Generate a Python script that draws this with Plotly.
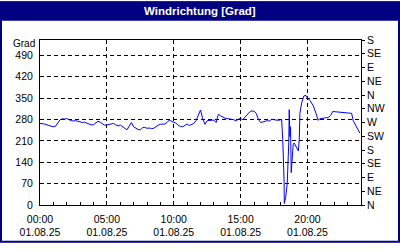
import pandas as pd
import plotly.graph_objects as go

# ---- data ----
times = [
    "00:00", "00:20", "00:40", "00:50", "01:00", "01:10", "01:20", "01:30", "01:40", "01:50",
    "02:00", "02:10", "02:20", "02:30", "02:40", "02:50", "03:00", "03:10", "03:20", "03:30",
    "03:40", "03:50", "04:00", "04:10", "04:20", "04:30", "04:40", "04:50", "05:00", "05:10",
    "05:20", "05:30", "05:40", "05:50", "06:00", "06:10", "06:20", "06:30", "06:40", "06:50",
    "07:00", "07:10", "07:20", "07:30", "07:40", "07:50", "08:00", "08:10", "08:20", "08:30",
    "08:40", "08:50", "09:00", "09:10", "09:20", "09:30", "09:40", "09:50", "10:00", "10:10",
    "10:20", "10:30", "10:40", "10:50", "11:00", "11:10", "11:20", "11:30", "11:40", "11:50",
    "12:00", "12:10", "12:20", "12:30", "12:40", "12:50", "13:00", "13:10", "13:20", "13:30",
    "13:40", "13:50", "14:00", "14:10", "14:20", "14:30", "14:40", "14:50", "15:00", "15:10",
    "15:20", "15:30", "15:40", "15:50", "16:00", "16:10", "16:20", "16:30", "16:40", "16:50",
    "17:00", "17:10", "17:20", "17:30", "17:40", "17:50", "18:04", "18:09", "18:15", "18:16",
    "18:22", "18:29", "18:36", "18:38", "18:41", "18:44", "18:47", "18:51", "18:56", "19:00",
    "19:11", "19:19", "19:23", "19:26", "19:34", "19:44", "19:53", "20:00", "20:11", "20:26",
    "20:38", "20:48", "20:54", "21:04", "21:18", "21:33", "21:44", "21:53", "22:11", "22:26",
    "22:49", "23:18", "23:25", "23:37", "23:48", "23:55",
]
direction = [
    267, 265, 260, 258, 256, 258, 268, 279, 282, 281,
    283, 279, 276, 275, 276, 274, 272, 270, 271, 268,
    265, 262, 263, 268, 274, 271, 266, 261, 262, 264,
    266, 267, 262, 259, 262, 256, 250, 246, 258, 270,
    256, 250, 247, 246, 253, 254, 251, 252, 250, 251,
    257, 261, 264, 264, 265, 270, 278, 274, 270, 268,
    261, 257, 256, 260, 265, 260, 263, 267, 276, 295,
    311, 282, 264, 276, 277, 276, 278, 270, 297, 292,
    287, 284, 283, 282, 281, 279, 275, 281, 283, 279,
    288, 298, 304, 308, 307, 300, 280, 270, 272, 275,
    276, 275, 281, 279, 277, 277, 280, 214, 77, 5,
    24, 70, 203, 312, 224, 256, 106, 161, 198, 203,
    187, 177, 214, 300, 335, 357, 359, 350, 342, 325,
    300, 277, 282, 284, 285, 286, 293, 306, 305, 303,
    301, 300, 276, 261, 245, 235,
]
day = "2025-08-01"
x_tick_hours = ["00:00", "05:00", "10:00", "15:00", "20:00"]
x_tick_date = "01.08.25"
left_ticks = [0, 70, 140, 210, 280, 350, 420, 490]
right_ticks = [0, 45, 90, 135, 180, 225, 270, 315, 360, 405, 450, 495, 540]
right_labels = ["N", "NE", "E", "SE", "S", "SW", "W", "NW", "N", "NE", "E", "SE", "S"]
title = "Windrichtung [Grad]"
unit = "Grad"

# ---- layout constants ----
W, H = 400, 250
ML, MR, MT, MB = 40, 39, 40, 39
PW, PH = W - ML - MR, H - MT - MB
NAVY = "#000080"
FONT = "Liberation Sans"


def px(xp):
    return (xp - ML) / PW


def py(yp):
    return (H - yp - MB) / PH


xs = pd.to_datetime([f"{day} {t}" for t in times])

fig = go.Figure()
fig.add_trace(go.Scatter(x=xs, y=direction, mode="lines",
                         line=dict(color="#0000FF", width=1),
                         hoverinfo="skip", showlegend=False))
fig.add_trace(go.Scatter(x=xs, y=direction, mode="lines", yaxis="y2",
                         line=dict(color="rgba(0,0,0,0)", width=0),
                         hoverinfo="skip", showlegend=False))

tickvals = pd.to_datetime([f"{day} {h}" for h in x_tick_hours])
ticktext = [f"{h}<br>{x_tick_date}" for h in x_tick_hours]

fig.update_layout(
    width=W, height=H,
    margin=dict(l=ML, r=MR, t=MT, b=MB, pad=0),
    paper_bgcolor="white", plot_bgcolor="white",
    font=dict(family=FONT, size=10, color="black"),
    xaxis=dict(
        range=[pd.Timestamp(f"{day} 00:00"), pd.Timestamp(f"{day} 00:00") + pd.Timedelta(hours=24)],
        tickvals=tickvals, ticktext=ticktext,
        ticks="inside", ticklen=3, tickcolor="black",
        showgrid=True, gridcolor="black", gridwidth=1, griddash="4px,3px",
        showline=True, linecolor="black", linewidth=1, mirror=True,
        zeroline=False, ticklabelstandoff=4,
        minor=dict(dtick=3600000, ticks="inside", ticklen=3, tickcolor="black", showgrid=False),
        tickfont=dict(size=10.5),
    ),
    yaxis=dict(
        range=[0, 540], tickvals=left_ticks,
        showgrid=True, gridcolor="black", gridwidth=1, griddash="4px,3px",
        showline=True, linecolor="black", linewidth=1, mirror=True,
        zeroline=False, ticks="", ticklabelstandoff=4,
        tickfont=dict(size=10.5),
    ),
    yaxis2=dict(
        range=[0, 540], tickvals=right_ticks, ticktext=right_labels,
        overlaying="y", side="right", anchor="x",
        showgrid=False, zeroline=False,
        ticks="outside", ticklen=3, tickcolor="black",
        tickfont=dict(size=10.5),
    ),
    shapes=[
        dict(type="rect", xref="paper", yref="paper",
             x0=px(0), x1=px(W), y0=py(20), y1=py(0),
             fillcolor=NAVY, line=dict(width=0), layer="above"),
        dict(type="rect", xref="paper", yref="paper",
             x0=px(1), x1=px(W - 1), y0=py(H - 1), y1=py(1),
             fillcolor="rgba(0,0,0,0)", line=dict(color=NAVY, width=2), layer="above"),
    ],
    annotations=[
        dict(text=f"<b>{title}</b>", xref="paper", yref="paper",
             x=px(W / 2), y=py(10), xanchor="center", yanchor="middle",
             showarrow=False, font=dict(family=FONT, size=11.5, color="white")),
        dict(text=unit, xref="paper", yref="paper",
             x=px(36), y=py(50), xanchor="right", yanchor="bottom",
             borderpad=0, showarrow=False,
             font=dict(family=FONT, size=10, color="black")),
    ],
)

fig.write_html("out.html")
